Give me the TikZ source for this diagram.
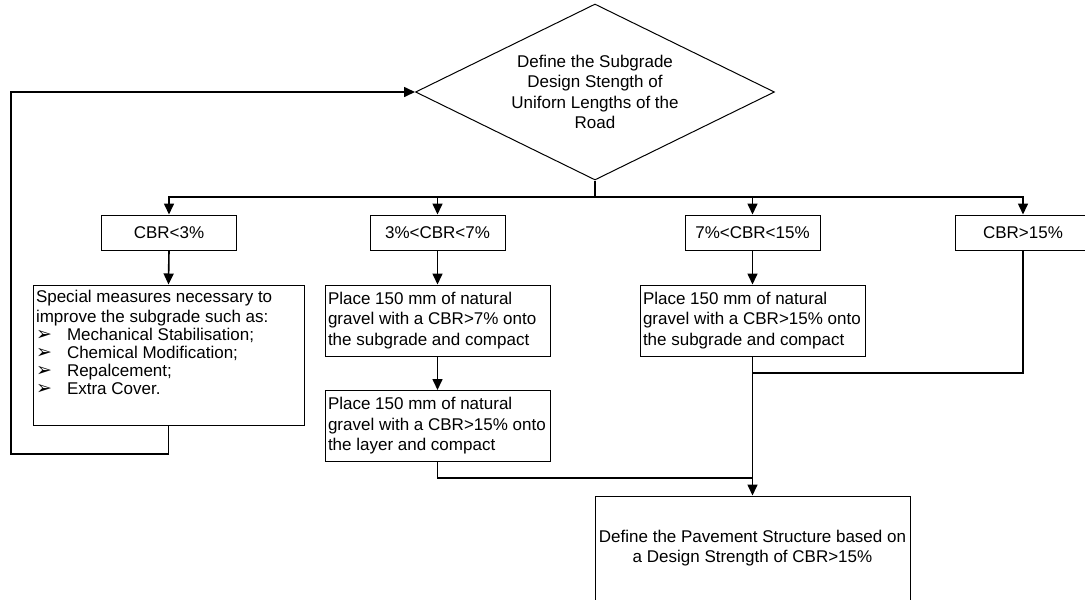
\documentclass[tikz,border=0pt]{standalone}
\usepackage{fontspec}
\setmainfont{Liberation Sans}
\newfontfamily\djv{DejaVu Sans}
\usetikzlibrary{shapes.geometric, arrows.meta}
\newcommand{\blt}{\makebox[31pt][l]{\djv\fontsize{19}{19}\selectfont ➢}}
\newcommand{\lft}[1]{\makebox[219pt][l]{\begin{tabular}{@{}l@{}}#1\end{tabular}}}
\begin{document}
\begin{tikzpicture}[x=1pt,y=-1pt,
  txt/.style={font=\fontsize{17}{20.5}\selectfont},
  box/.style={txt, draw, line width=1pt, rectangle, inner sep=3pt},
  cbr/.style={box, minimum width=135pt, minimum height=35pt},
  pbox/.style={box, minimum width=225pt, minimum height=71pt},
  conn/.style={line width=1.6pt},
  arr/.style={conn, -{Triangle[length=11pt,width=10pt]}},
]
\useasboundingbox (0,0) rectangle (1085,600);
\begin{scope}
\clip (0,0) rectangle (1085,600);
% decision
\node[diamond, draw, line width=1pt, minimum width=359pt, minimum height=176pt, inner sep=0pt] (dia) at (595,92) {};
\node[txt, align=center] (diatxt) at (dia.center) {Define the Subgrade\\Design Stength of\\Uniforn Lengths of the\\Road};
% CBR classes
\node[cbr] (c1) at (169,232.5) {CBR<3\%};
\node[cbr] (c2) at (437.5,232.5) {3\%<CBR<7\%};
\node[cbr] (c3) at (752.5,232.5) {7\%<CBR<15\%};
\node[cbr] (c4) at (1023,232.5) {CBR>15\%};
% actions
\node[box, minimum width=271pt, minimum height=140pt] (sp) at (168.5,355) {\parbox[c][134pt][t]{265pt}{\vspace{2pt}Special measures necessary to\\
improve the subgrade such as:\\[-2.5pt]
\blt Mechanical Stabilisation;\\[-2.5pt]
\blt Chemical Modification;\\[-2.5pt]
\blt Repalcement;\\[-2.5pt]
\blt Extra Cover.}};
\node[pbox] (p1) at (437.5,320.5) {\lft{Place 150 mm of natural\\gravel with a CBR>7\% onto\\the subgrade and compact}};
\node[pbox] (p2) at (437.5,426) {\lft{Place 150 mm of natural\\gravel with a CBR>15\% onto\\the layer and compact}};
\node[pbox] (p3) at (752.5,320.5) {\lft{Place 150 mm of natural\\gravel with a CBR>15\% onto\\the subgrade and compact}};
\node[box, minimum width=315pt, minimum height=112pt] (fin) at (752.5,552) {};
\node[txt, align=center] (fintxt) at (752.5,548) {Define the Pavement Structure based on\\a Design Strength of CBR>15\%};
% connectors
\coordinate (br) at (595,197);
\coordinate (lp) at (11,454);
\coordinate (jl) at (752.5,478);
\coordinate (jr) at (752.5,373);
\draw[conn] (dia.south) -- (br);
\draw[arr] (br) -| (c1.north);
\draw[arr] (br) -| (c2.north);
\draw[arr] (br) -| (c3.north);
\draw[arr] (br) -| (c4.north);
\draw[arr] (c1.south) -- (sp.north);
\draw[arr] (sp.south) |- (lp) |- (dia.west);
\draw[arr] (c2.south) -- (p1.north);
\draw[arr] (p1.south) -- (p2.north);
\draw[conn] (p2.south) |- (jl);
\draw[arr] (c3.south) -- (p3.north);
\draw[arr] (p3.south) -- (fin.north);
\draw[conn] (c4.south) |- (jr);
\end{scope}
\end{tikzpicture}
\end{document}
